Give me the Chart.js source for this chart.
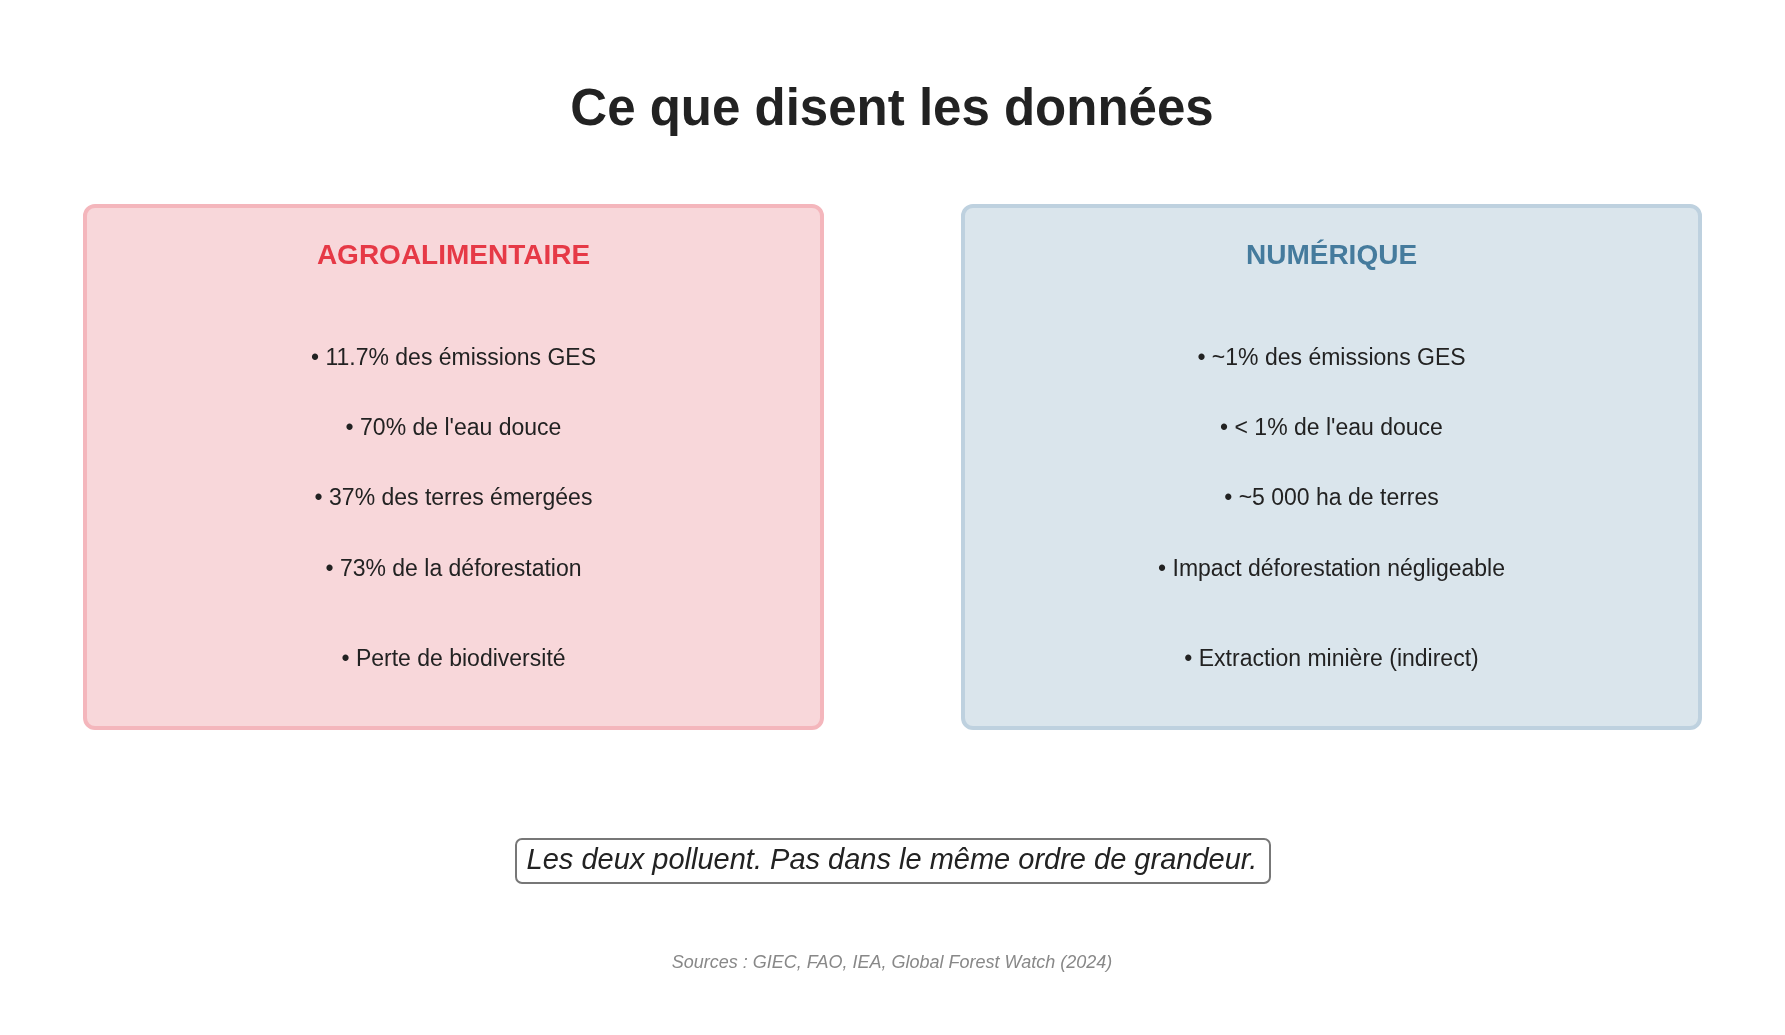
<!DOCTYPE html>
<html><head><meta charset="utf-8">
<script src="https://cdn.jsdelivr.net/npm/chart.js@4"></script>
<style>html,body{margin:0;padding:0;background:#fff}#wrap{width:1785px;height:1035px}</style>
</head><body><div id="wrap"><canvas id="c"></canvas></div>
<script>
const title = "Ce que disent les données";
const panelTitles = ["AGROALIMENTAIRE", "NUMÉRIQUE"];
const agroItems = ["• 11.7% des émissions GES", "• 70% de l'eau douce", "• 37% des terres émergées", "• 73% de la déforestation", "• Perte de biodiversité"];
const numItems = ["• ~1% des émissions GES", "• < 1% de l'eau douce", "• ~5 000 ha de terres", "• Impact déforestation négligeable", "• Extraction minière (indirect)"];
const conclusion = "Les deux polluent. Pas dans le même ordre de grandeur.";
const sources = "Sources : GIEC, FAO, IEA, Global Forest Watch (2024)";

function rr(ctx,x,y,w,h,r){ctx.beginPath();ctx.moveTo(x+r,y);ctx.arcTo(x+w,y,x+w,y+h,r);ctx.arcTo(x+w,y+h,x,y+h,r);ctx.arcTo(x,y+h,x,y,r);ctx.arcTo(x,y,x+w,y,r);ctx.closePath();}

const infographic = {
  id:'infographic',
  afterDraw(chart){
    const ctx = chart.ctx, xs = chart.scales.x, ys = chart.scales.y;
    const X = v => xs.getPixelForValue(v), Y = v => ys.getPixelForValue(v);
    ctx.save();
    ctx.textAlign='center'; ctx.textBaseline='middle';
    ctx.fillStyle='#222'; ctx.font='bold 51px "Liberation Sans", Arial, sans-serif';
    ctx.fillText(title, X(892), Y(111));
    const panels = [
      {x0:85,x1:822,fill:'#f8d7da',stroke:'#f4b6bc',head:'#e63946',items:agroItems,t:panelTitles[0]},
      {x0:963,x1:1700,fill:'#dae5ec',stroke:'#bed1df',head:'#457b9d',items:numItems,t:panelTitles[1]}
    ];
    const itemY=[359,429,499,570,660];
    panels.forEach(p=>{
      rr(ctx,X(p.x0),Y(206),X(p.x1)-X(p.x0),Y(728)-Y(206),10);
      ctx.fillStyle=p.fill; ctx.fill();
      ctx.lineWidth=4; ctx.strokeStyle=p.stroke; ctx.stroke();
      const cx=(X(p.x0)+X(p.x1))/2;
      ctx.fillStyle=p.head; ctx.font='bold 28px "Liberation Sans", Arial, sans-serif';
      ctx.fillText(p.t,cx,Y(256));
      ctx.fillStyle='#222'; ctx.font='23px "Liberation Sans", Arial, sans-serif';
      p.items.forEach((s,i)=>ctx.fillText(s,cx,Y(itemY[i])));
    });
    rr(ctx,X(516),Y(839),X(1270)-X(516),Y(883)-Y(839),6);
    ctx.fillStyle='#fff'; ctx.fill(); ctx.lineWidth=2; ctx.strokeStyle='#777'; ctx.stroke();
    ctx.fillStyle='#222'; ctx.font='italic 29px "Liberation Sans", Arial, sans-serif';
    ctx.fillText(conclusion,X(892),Y(861));
    ctx.fillStyle='#888'; ctx.font='italic 18px "Liberation Sans", Arial, sans-serif';
    ctx.fillText(sources,X(892),Y(963));
    ctx.restore();
  }
};

new Chart(document.getElementById('c'),{
  type:'scatter',
  data:{datasets:[{data:[]}]},
  options:{responsive:true,maintainAspectRatio:false,animation:false,
    layout:{padding:0},
    plugins:{legend:{display:false},tooltip:{enabled:false}},
    scales:{x:{type:'linear',min:0,max:1785,display:false},y:{type:'linear',min:0,max:1035,reverse:true,display:false}}},
  plugins:[infographic]
});
</script></body></html>
